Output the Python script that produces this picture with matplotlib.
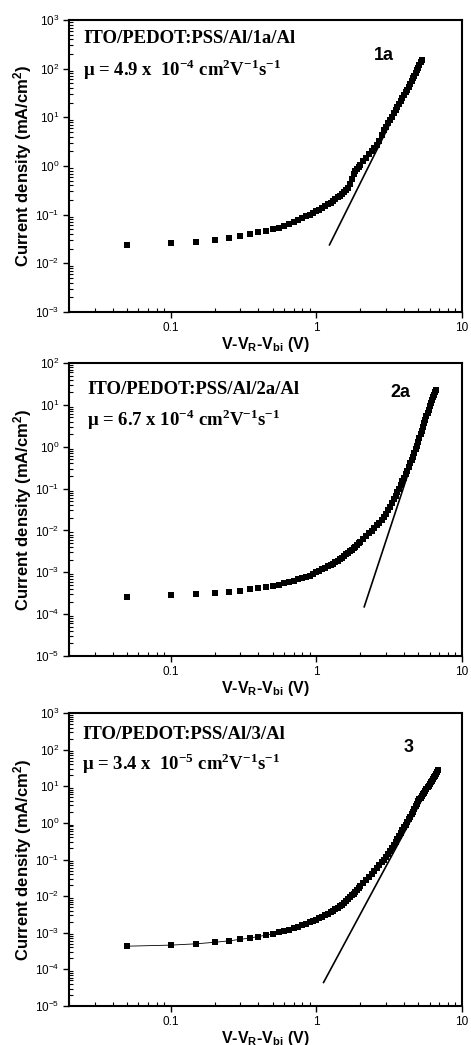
import numpy as np
import matplotlib
matplotlib.use('Agg')
import matplotlib.pyplot as plt
from matplotlib.ticker import LogLocator, FixedLocator, FixedFormatter, NullFormatter

plt.rcParams['font.family'] = ['Liberation Sans', 'DejaVu Sans']
plt.rcParams['mathtext.fontset'] = 'custom'
plt.rcParams['mathtext.rm'] = 'Liberation Sans'
plt.rcParams['mathtext.it'] = 'Liberation Sans:italic'
plt.rcParams['mathtext.bf'] = 'Liberation Serif:bold'
plt.rcParams['mathtext.sf'] = 'Liberation Sans:bold'

# voltage grid (V-V_R-V_bi): 0.05 V steps up to 2 V, then 0.1 V steps
x_low = np.round(np.arange(0.05, 2.0001, 0.05), 2)

# device 1a
x_1a = np.concatenate([x_low, np.round(np.arange(2.1, 5.3001, 0.1), 1)])
j_1a = [0.024, 0.026, 0.028, 0.030, 0.033, 0.036, 0.040, 0.044, 0.047, 0.050,
        0.054, 0.059, 0.065, 0.071, 0.078, 0.085, 0.092, 0.100, 0.108, 0.117,
        0.127, 0.138, 0.150, 0.163, 0.177, 0.192, 0.208, 0.226, 0.246, 0.268,
        0.293, 0.322, 0.36, 0.42, 0.55, 0.68, 0.78, 0.88, 0.97, 1.06,
        1.25, 1.48, 1.73, 2.02, 2.35, 2.72, 3.25, 4.3, 5.4, 6.4,
        7.5, 8.8, 10.3, 12.0, 13.9, 16.0, 18.5, 21.4, 24.7, 28.4,
        32.5, 37.2, 42.5, 48.5, 55.3, 63.0, 71.7, 81.6, 92.7, 105,
        119, 135, 153]
fit_1a_x = [1.23, 5.3]
fit_1a_j = [0.024, 153]

# device 2a
x_2a = np.concatenate([x_low, np.round(np.arange(2.1, 6.6001, 0.1), 1)])
j_2a = [2.6e-4, 2.8e-4, 3.0e-4, 3.2e-4, 3.4e-4, 3.6e-4, 3.9e-4, 4.2e-4, 4.5e-4, 4.7e-4,
        5.1e-4, 5.5e-4, 5.9e-4, 6.3e-4, 6.8e-4, 7.2e-4, 7.8e-4, 8.4e-4, 9.2e-4, 1.0e-3,
        1.08e-3, 1.17e-3, 1.27e-3, 1.38e-3, 1.50e-3, 1.62e-3, 1.76e-3, 1.91e-3, 2.07e-3, 2.25e-3,
        2.45e-3, 2.67e-3, 2.91e-3, 3.17e-3, 3.46e-3, 3.78e-3, 4.13e-3, 4.51e-3, 4.93e-3, 5.4e-3,
        6.3e-3, 7.4e-3, 8.6e-3, 9.9e-3, 0.0114, 0.0132, 0.0153, 0.0178, 0.0210, 0.025,
        0.030, 0.037, 0.045, 0.055, 0.067, 0.082, 0.100, 0.122, 0.148, 0.18,
        0.22, 0.27, 0.33, 0.40, 0.48, 0.58, 0.71, 0.87, 1.07, 1.32,
        1.62, 1.98, 2.42, 2.95, 3.6, 4.4, 5.3, 6.4, 7.7, 9.2,
        11.0, 13.0, 15.2, 17.6, 20.2, 23.0]
fit_2a_x = [2.13, 6.6]
fit_2a_j = [1.5e-4, 23.0]

# device 3
x_3 = np.concatenate([x_low, np.round(np.arange(2.1, 6.8001, 0.1), 1)])
j_3 = [4.3e-4, 4.6e-4, 5.0e-4, 5.5e-4, 6.0e-4, 6.6e-4, 7.2e-4, 7.9e-4, 8.6e-4, 9.3e-4,
       1.02e-3, 1.12e-3, 1.22e-3, 1.34e-3, 1.46e-3, 1.60e-3, 1.75e-3, 1.92e-3, 2.10e-3, 2.3e-3,
       2.53e-3, 2.78e-3, 3.05e-3, 3.35e-3, 3.68e-3, 4.05e-3, 4.45e-3, 4.89e-3, 5.37e-3, 5.9e-3,
       6.6e-3, 7.4e-3, 8.3e-3, 9.3e-3, 0.0105, 0.0118, 0.0133, 0.0150, 0.0168, 0.0188,
       0.0226, 0.0272, 0.0328, 0.0395, 0.0475, 0.057, 0.069, 0.083, 0.100, 0.12,
       0.144, 0.173, 0.207, 0.249, 0.30, 0.36, 0.43, 0.52, 0.62, 0.75,
       0.89, 1.05, 1.24, 1.46, 1.72, 2.03, 2.40, 2.83, 3.35, 3.95,
       4.4, 4.9, 5.45, 6.05, 6.75, 7.5, 8.35, 9.3, 10.3, 11.5,
       12.8, 14.2, 15.8, 17.6, 19.6, 21.8, 24.3, 27.0]
fit_3_x = [1.12, 6.8]
fit_3_j = [4.4e-5, 27.0]

panels = [
    dict(x=x_1a, j=j_1a, fx=fit_1a_x, fj=fit_1a_j, ylim=(1e-3, 1e3), line=False,
         dev='ITO/PEDOT:PSS/Al/1a/Al',
         mu=r'μ = 4.9 x  10$^{\mathbf{-4}}$ cm$^{\mathbf{2}}$V$^{\mathbf{-1}}$s$^{\mathbf{-1}}$',
         tag='1a', pos=[0.1465, 0.7014, 0.8344, 0.2795],
         t1=(0.036, 0.938), t2=(0.036, 0.829), tt=(0.80, 0.88)),
    dict(x=x_2a, j=j_2a, fx=fit_2a_x, fj=fit_2a_j, ylim=(1e-5, 1e2), line=False,
         dev='ITO/PEDOT:PSS/Al/2a/Al',
         mu=r'μ = 6.7 x 10$^{\mathbf{-4}}$ cm$^{\mathbf{2}}$V$^{\mathbf{-1}}$s$^{\mathbf{-1}}$',
         tag='2a', pos=[0.1465, 0.3722, 0.8344, 0.2804],
         t1=(0.046, 0.911), t2=(0.046, 0.805), tt=(0.842, 0.898)),
    dict(x=x_3, j=j_3, fx=fit_3_x, fj=fit_3_j, ylim=(1e-5, 1e3), line=True,
         dev='ITO/PEDOT:PSS/Al/3/Al',
         mu=r'μ = 3.4 x  10$^{\mathbf{-5}}$ cm$^{\mathbf{2}}$V$^{\mathbf{-1}}$s$^{\mathbf{-1}}$',
         tag='3', pos=[0.1465, 0.0373, 0.8344, 0.2804],
         t1=(0.033, 0.925), t2=(0.033, 0.826), tt=(0.863, 0.881)),
]

fig = plt.figure(figsize=(4.71, 10.45), dpi=100)

for p in panels:
    ax = fig.add_axes(p['pos'])
    ax.set_xscale('log')
    ax.set_yscale('log')
    ls = '-' if p['line'] else 'none'
    ax.plot(p['x'], p['j'], linestyle=ls, lw=0.6, color='black',
            marker='s', markersize=4.7, markeredgewidth=0)
    ax.plot(p['fx'], p['fj'], color='black', lw=1.2)
    ax.set_xlim(0.02, 10)
    ax.set_ylim(*p['ylim'])

    ax.xaxis.set_major_locator(FixedLocator([0.1, 1, 10]))
    ax.xaxis.set_major_formatter(FixedFormatter(['0.1', '1', '10']))
    ax.xaxis.set_minor_locator(LogLocator(base=10, subs=np.arange(2, 10)))
    ax.xaxis.set_minor_formatter(NullFormatter())
    ax.yaxis.set_major_locator(LogLocator(base=10, numticks=20))
    ax.yaxis.set_minor_locator(LogLocator(base=10, subs=np.arange(2, 10), numticks=20))
    ax.yaxis.set_minor_formatter(NullFormatter())

    ax.tick_params(which='major', direction='out', length=4, width=1.0,
                   labelsize=8.5, pad=3)
    ax.tick_params(which='minor', direction='in', length=3, width=0.8)
    for s in ax.spines.values():
        s.set_linewidth(1.5)

    ax.set_ylabel('Current density (mA/cm$^{\\mathsf{2}}$)', fontsize=12,
                  fontweight='bold')
    ax.yaxis.set_label_coords(-0.088, 0.5)
    ax.set_xlabel('V-V$_{\\mathsf{R}}$-V$_{\\mathsf{bi}}$ (V)', fontsize=11.5,
                  fontweight='bold', labelpad=1)

    ax.text(*p['t1'], p['dev'], transform=ax.transAxes, ha='left', va='center',
            fontsize=13.5, fontweight='bold', family='Liberation Serif')
    ax.text(*p['t2'], p['mu'], transform=ax.transAxes, ha='left', va='center',
            fontsize=13.5, fontweight='bold', family='Liberation Serif')
    ax.text(*p['tt'], p['tag'], transform=ax.transAxes, ha='center', va='center',
            fontsize=13, fontweight='bold')

plt.savefig('out.png', dpi=100)
